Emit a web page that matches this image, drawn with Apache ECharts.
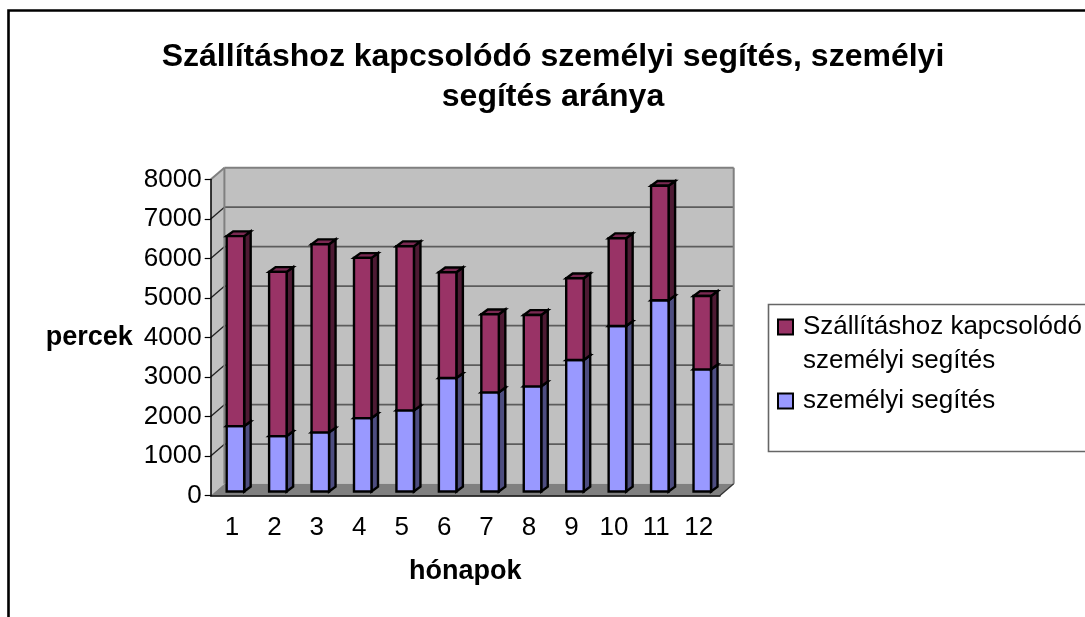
<!DOCTYPE html>
<html>
<head>
<meta charset="utf-8">
<style>html,body{margin:0;padding:0;background:#fff}#c{width:1085px;height:617px}</style>
<script src="https://cdn.jsdelivr.net/npm/echarts@6/dist/echarts.min.js"></script>
</head>
<body>
<div id="c"></div>
<script>
const months = ['1','2','3','4','5','6','7','8','9','10','11','12'];
const szemelyi = [1655,1402,1496,1858,2053,2872,2510,2662,3328,4190,4842,3093];
const szallitas = [4809,4157,4765,4056,4157,2678,1977,1808,2071,2223,2897,1858];
const yTicks = [0,1000,2000,3000,4000,5000,6000,7000,8000];
const titleText = 'Szállításhoz kapcsolódó személyi segítés, személyi\nsegítés aránya';
const nameUpper = 'Szállításhoz kapcsolódó\nszemélyi segítés';
const nameLower = 'személyi segítés';

const FONT = '"Liberation Sans", Arial, sans-serif';
const WALL_DX = 13.7, WALL_DY = -11.8;
const BAR_W = 17.5, BAR_DX = 6.5, BAR_DY = -4.8, BAR_SHIFT_X = 3.5, BAR_SHIFT_Y = -4;

function poly(points, fill, stroke, lw) {
  return { type:'polygon', shape:{points}, style:{fill:fill, stroke:stroke||null, lineWidth:lw||0} };
}
function line(a, b, stroke, lw) {
  return { type:'line', shape:{x1:a[0],y1:a[1],x2:b[0],y2:b[1]}, style:{stroke, lineWidth:lw} };
}
function renderWalls(params, api) {
  const g = params.coordSys, L = g.x, R = g.x + g.width, B = g.y + g.height, T = g.y;
  const dx = WALL_DX, dy = WALL_DY;
  const kids = [
    poly([[L,B],[L+dx,B+dy],[L+dx,T+dy],[L,T]], '#c0c0c0'),
    poly([[L+dx,T+dy],[R+dx,T+dy],[R+dx,B+dy],[L+dx,B+dy]], '#c0c0c0'),
    poly([[L,B],[R,B],[R+dx,B+dy],[L+dx,B+dy]], '#808080')
  ];
  yTicks.forEach(v => {
    const y = api.coord([0, v])[1];
    if (v > 0 && v < 8000) {
      kids.push(line([L+dx,y+dy],[R+dx,y+dy],'#5c5c5c',1.8));
      kids.push(line([L,y],[L+dx,y+dy],'#222',1.3));
    }
  });
  kids.push(line([L,T],[L+dx,T+dy],'#808080',2));
  kids.push(line([L+dx,T+dy],[R+dx,T+dy],'#808080',2));
  kids.push(line([R+dx,T+dy],[R+dx,B+dy],'#808080',2));
  kids.push(line([L+dx,T+dy],[L+dx,B+dy],'#808080',2));
  kids.push(line([R,B],[R+dx,B+dy],'#333',1.3));
  return { type:'group', children:kids };
}
function barRenderer(front, side, top) {
  return function (params, api) {
    const cat = api.value(0), lo = api.value(1), hi = api.value(2);
    const c0 = api.coord([cat, lo]), c1 = api.coord([cat, hi]);
    const cx = c0[0] + BAR_SHIFT_X, x0 = cx - BAR_W/2, x1 = cx + BAR_W/2;
    const y0 = c0[1] + BAR_SHIFT_Y, y1 = c1[1] + BAR_SHIFT_Y;
    const bs = '#000', w = 2.4;
    return { type:'group', children:[
      poly([[x1,y0],[x1+BAR_DX,y0+BAR_DY],[x1+BAR_DX,y1+BAR_DY],[x1,y1]], side, bs, w),
      poly([[x0,y1],[x1,y1],[x1+BAR_DX,y1+BAR_DY],[x0+BAR_DX,y1+BAR_DY]], top, bs, w),
      poly([[x0,y0],[x1,y0],[x1,y1],[x0,y1]], front, bs, w)
    ]};
  };
}
const lowerData = months.map((m,i)=>[i,0,szemelyi[i]]);
const upperData = months.map((m,i)=>[i,szemelyi[i],szemelyi[i]+szallitas[i]]);

const chart = echarts.init(document.getElementById('c'), null, {renderer:'canvas'});
chart.setOption({
  animation:false,
  backgroundColor:'#fff',
  textStyle:{fontFamily:FONT},
  title:{
    text:titleText, left:548, top:32, textAlign:'center',
    textStyle:{fontFamily:FONT,fontSize:32,fontWeight:'bold',color:'#000',lineHeight:40}
  },
  graphic:[
    {type:'rect',z:0,shape:{x:8.5,y:10.5,width:1200,height:800},style:{fill:'#fff',stroke:'#000',lineWidth:2.6}},
    {type:'rect',z:0,shape:{x:768.5,y:304.5,width:400,height:147},style:{fill:'#fff',stroke:'#666',lineWidth:1.6}}
  ],
  legend:{
    orient:'vertical', left:777, top:276, padding:0, itemWidth:15, itemHeight:15, itemGap:6,
    icon:'rect', selectedMode:false,
    formatter:n => n.indexOf('\n') >= 0 ? '\n' + n : n,
    textStyle:{fontFamily:FONT,fontSize:26,color:'#000',lineHeight:34},
    data:[
      {name:nameUpper,itemStyle:{color:'#993366',borderColor:'#000',borderWidth:2},textStyle:{padding:[0,0,0,5]}},
      {name:nameLower,itemStyle:{color:'#9999ff',borderColor:'#000',borderWidth:2},textStyle:{padding:[0,0,0,5]}}
    ]
  },
  grid:{left:210.7,top:179.5,width:509.3,height:316},
  xAxis:{
    type:'category',data:months,z:5,boundaryGap:true,
    name:'hónapok',nameLocation:'middle',nameGap:63,
    nameTextStyle:{fontFamily:FONT,fontSize:27,fontWeight:'bold',color:'#000'},
    axisLine:{lineStyle:{color:'#000',width:1.5}},
    axisTick:{alignWithLabel:false,length:6,lineStyle:{color:'#000',width:1.2}},
    axisLabel:{fontFamily:FONT,fontSize:26,color:'#000',margin:19,interval:0},
    splitLine:{show:false}
  },
  yAxis:{
    type:'value',min:0,max:8000,interval:1000,z:5,
    name:'percek',nameLocation:'middle',nameRotate:0,nameGap:78,
    nameTextStyle:{fontFamily:FONT,fontSize:27,fontWeight:'bold',color:'#000',align:'right',verticalAlign:'middle',padding:[4,0,0,0]},
    axisLine:{show:true,lineStyle:{color:'#000',width:1.5}},
    axisTick:{show:true,length:6,lineStyle:{color:'#000',width:1.2}},
    axisLabel:{fontFamily:FONT,fontSize:26,color:'#000',margin:9,formatter:v=>String(v)},
    splitLine:{show:false}
  },
  series:[
    {type:'custom',silent:true,z:1,data:[[0,0]],renderItem:renderWalls,encode:{x:0,y:1},clip:false},
    {type:'custom',name:nameLower,silent:true,z:2,data:lowerData,clip:false,
      encode:{x:0,y:2},itemStyle:{color:'#9999ff'},renderItem:barRenderer('#9999ff','#4d4d80','#7a7acc')},
    {type:'custom',name:nameUpper,silent:true,z:3,data:upperData,clip:false,
      encode:{x:0,y:2},itemStyle:{color:'#993366'},renderItem:barRenderer('#993366','#4d1a33','#7a2952')}
  ]
});
</script>
</body>
</html>
